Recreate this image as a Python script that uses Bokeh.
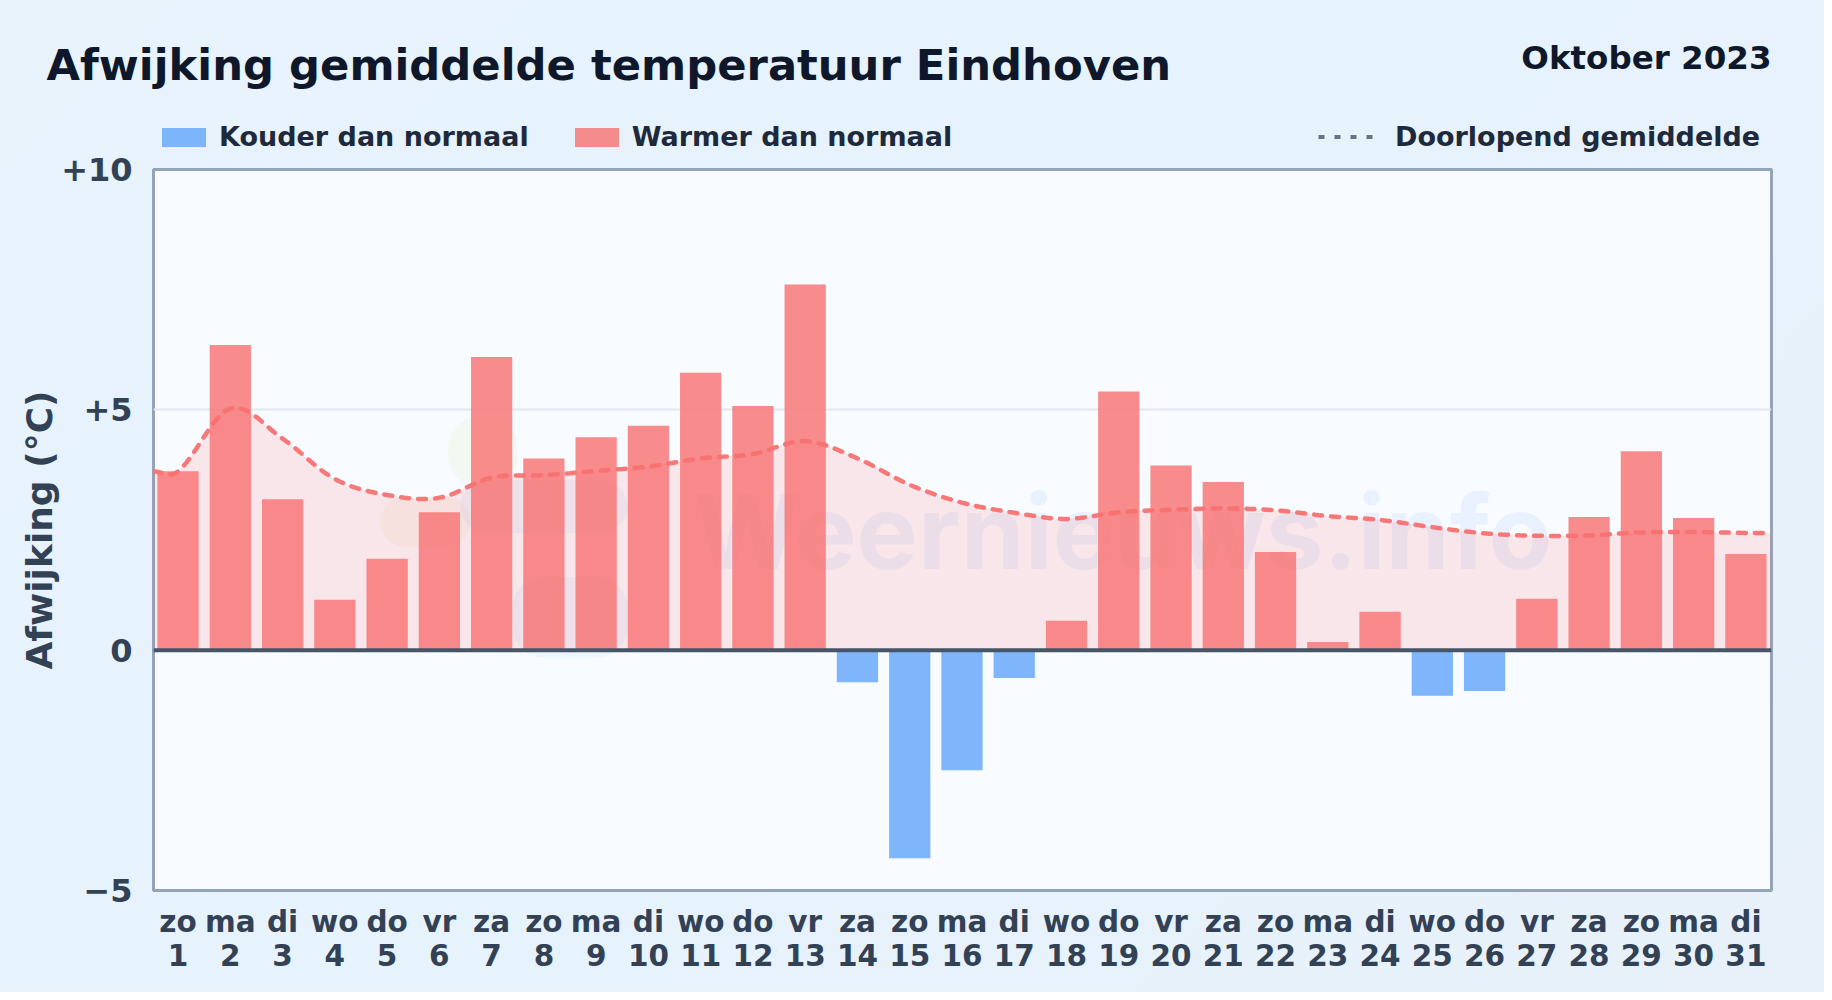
from bokeh.plotting import figure
from bokeh.layouts import column
from bokeh.embed import file_html
from bokeh.resources import INLINE
from bokeh.models import (ColumnDataSource, Label, Legend, LegendItem, Range1d, FixedTicker, Span,
                          LinearAxis, BoxAnnotation)

# ---- data ----
days = list(range(1, 32))
weekdays = ["zo","ma","di","wo","do","vr","za","zo","ma","di","wo","do","vr","za","zo","ma",
            "di","wo","do","vr","za","zo","ma","di","wo","do","vr","za","zo","ma","di"]
deviation = [3.72,6.35,3.14,1.05,1.90,2.87,6.10,3.99,4.43,4.67,5.77,5.08,7.61,-0.67,-4.33,-2.50,
             -0.58,0.61,5.38,3.84,3.50,2.04,0.17,0.80,-0.95,-0.85,1.07,2.77,4.14,2.75,2.00]
running = [3.72,5.03,4.40,3.56,3.23,3.17,3.59,3.64,3.73,3.82,3.99,4.08,4.35,3.99,3.44,3.07,
           2.86,2.73,2.87,2.92,2.95,2.91,2.79,2.71,2.56,2.43,2.38,2.39,2.45,2.46,2.44]
y_ticks = [-5, 0, 5, 10]
y_tick_labels = {-5: "\u22125", 0: "0", 5: "+5", 10: "+10"}
title_text = "Afwijking gemiddelde temperatuur Eindhoven"
period_text = "Oktober 2023"
cold_label = "Kouder dan normaal"
warm_label = "Warmer dan normaal"
mean_label = "Doorlopend gemiddelde"
y_title = "Afwijking (\u00b0C)"

W, H = 1824, 992
HEAD = 156
OVERLAP = 20
FONT = "DejaVu Sans"
x0, x1 = 0.53, 31.49
RED, BLUE = "#f87171", "#60a5fa"

# ---- header strip: title, period and legends ----
head = figure(width=W, height=HEAD, output_backend="svg", toolbar_location=None,
              x_range=Range1d(0, W), y_range=Range1d(0, HEAD),
              min_border=0, border_fill_color=None, background_fill_color=None,
              outline_line_color=None, frame_align=False)
head.axis.visible = False
head.grid.visible = False
head.add_layout(Label(x=46, y=67, x_units="screen", y_units="screen", text=title_text,
                      text_font=FONT, text_font_style="bold", text_font_size="43.3px",
                      text_color="#0f172a"))
head.add_layout(Label(x=1771, y=80, x_units="screen", y_units="screen", text=period_text,
                      text_align="right", text_font=FONT, text_font_style="bold",
                      text_font_size="32.5px", text_color="#0f172a"))

# legend keys: their glyphs lie outside the header's visible range
h_cold = head.vbar(x=[-100], top=[-100], bottom=[-101], width=1, fill_color=BLUE, fill_alpha=0.8, line_color=None)
h_warm = head.vbar(x=[-100], top=[-100], bottom=[-101], width=1, fill_color=RED, fill_alpha=0.8, line_color=None)
h_mean = head.line(x=[-100, -99], y=[-100, -100], line_color="#64748b", line_width=4, line_dash="6 10")

def legend(items, loc, **kw):
    lg = Legend(items=items, location=loc, orientation="horizontal",
                background_fill_alpha=0, border_line_color=None, margin=0, padding=0,
                label_text_font=FONT, label_text_font_style="bold", label_text_font_size="27px",
                label_text_color="#1e293b", **kw)
    head.add_layout(lg, "center")

legend([LegendItem(label=cold_label, renderers=[h_cold]),
        LegendItem(label=warm_label, renderers=[h_warm])],
       (156, 4), glyph_width=55, glyph_height=24, spacing=40, label_standoff=8)
legend([LegendItem(label=mean_label, renderers=[h_mean])],
       (1318, 4), glyph_width=56, glyph_height=19, label_standoff=21)

# ---- chart ----
p = figure(width=W, height=H - HEAD + OVERLAP, output_backend="svg", toolbar_location=None,
           x_range=Range1d(x0, x1), y_range=Range1d(-5, 10),
           min_border_left=153, min_border_right=53, min_border_top=169 - HEAD + OVERLAP,
           min_border_bottom=102,
           border_fill_color=None, background_fill_color="#f8fbff",
           outline_line_color="#94a3b8", outline_line_width=3, frame_align=False)
p.styles = {"margin-top": f"-{OVERLAP}px"}

# watermark: faint logo blobs and site name behind the chart
for (l, r, b, t, c) in [(4.87, 6.6, 2.15, 3.19, "#f59e0b"), (6.17, 7.5, 3.4, 4.85, "#a3c93a"),
                        (6.4, 9.6, 2.44, 3.54, "#3b82f6"), (7.4, 9.6, -0.15, 1.52, "#3b82f6")]:
    p.add_layout(BoxAnnotation(left=l, right=r, bottom=b, top=t, fill_color=c, fill_alpha=0.06,
                               line_color=None, border_radius=30, level="underlay"))
p.add_layout(Label(x=540, y=297, x_units="screen", y_units="screen", text="Weernieuws.info",
                   text_font="Inter", text_font_size="103px", text_font_style="bold",
                   text_color="#3b82f6", text_alpha=0.08, level="underlay"))

# smooth curve through the read values (line tension of the original)
def smooth(xs, ys, n=12):
    px, py = [], []
    for i in range(len(xs) - 1):
        a = max(i - 1, 0); b = min(i + 2, len(xs) - 1)
        dx = xs[i + 1] - xs[i]
        m0 = (ys[i + 1] - ys[a]) / (xs[i + 1] - xs[a]) * dx
        m1 = (ys[b] - ys[i]) / (xs[b] - xs[i]) * dx
        for k in range(n):
            t = k / n
            h00 = 2*t**3 - 3*t**2 + 1; h10 = t**3 - 2*t**2 + t
            h01 = -2*t**3 + 3*t**2; h11 = t**3 - t**2
            px.append(xs[i] + t * dx)
            py.append(h00*ys[i] + h10*m0 + h01*ys[i+1] + h11*m1)
    px.append(xs[-1]); py.append(ys[-1])
    return px, py

cx, cy = smooth([x0] + days + [x1], [running[0]] + running + [running[-1]])
curve = ColumnDataSource(dict(x=cx, y=cy, zero=[0] * len(cx)))

p.varea(x="x", y1="zero", y2="y", source=curve, fill_color=RED, fill_alpha=0.15)

p.ygrid.ticker = FixedTicker(ticks=[5])
p.ygrid.grid_line_color = "#e2e8f0"
p.ygrid.grid_line_width = 2
p.xgrid.visible = False

cold = ColumnDataSource(dict(x=[d for d, v in zip(days, deviation) if v < 0],
                             top=[v for v in deviation if v < 0]))
warm = ColumnDataSource(dict(x=[d for d, v in zip(days, deviation) if v >= 0],
                             top=[v for v in deviation if v >= 0]))
p.vbar(x="x", top="top", bottom=0, width=0.79, source=cold,
       fill_color=BLUE, fill_alpha=0.8, line_color=None)
p.vbar(x="x", top="top", bottom=0, width=0.79, source=warm,
       fill_color=RED, fill_alpha=0.8, line_color=None)

p.add_layout(Span(location=0, dimension="width", line_color="#475569", line_width=4))

p.line(x="x", y="y", source=curve, line_color=RED, line_width=4.5, line_alpha=0.95,
       line_dash="8 9", line_cap="round")

# axes: weekday row and day-number row
def style_x(ax, standoff):
    ax.ticker = FixedTicker(ticks=days)
    ax.major_label_text_font = FONT
    ax.major_label_text_font_style = "bold"
    ax.major_label_text_font_size = "29.5px"
    ax.major_label_text_color = "#334155"
    ax.major_tick_line_color = None
    ax.minor_tick_line_color = None
    ax.axis_line_color = None
    ax.major_label_standoff = standoff

style_x(p.xaxis[0], 8)
p.xaxis[0].major_label_overrides = {d: w for d, w in zip(days, weekdays)}
day_axis = LinearAxis()
style_x(day_axis, -4)
day_axis.major_label_overrides = {d: str(d) for d in days}
p.add_layout(day_axis, "below")

p.yaxis.ticker = FixedTicker(ticks=y_ticks)
p.yaxis.major_label_overrides = y_tick_labels
p.yaxis.major_label_text_font = FONT
p.yaxis.major_label_text_font_style = "bold"
p.yaxis.major_label_text_font_size = "32px"
p.yaxis.major_label_text_color = "#334155"
p.yaxis.major_tick_line_color = None
p.yaxis.minor_tick_line_color = None
p.yaxis.axis_line_color = None
p.yaxis.major_label_standoff = 15
p.yaxis.axis_label = y_title
p.yaxis.axis_label_text_font = FONT
p.yaxis.axis_label_text_font_style = "bold"
p.yaxis.axis_label_text_font_size = "36px"
p.yaxis.axis_label_text_color = "#334155"
p.yaxis.axis_label_standoff = -2

page = column(head, p, spacing=0)
page.styles = {"background": "linear-gradient(135deg,#e8f3fc 0%,#e6f2fc 50%,#e8f1fa 100%)"}

open("out.html", "w").write(file_html(page, INLINE))
